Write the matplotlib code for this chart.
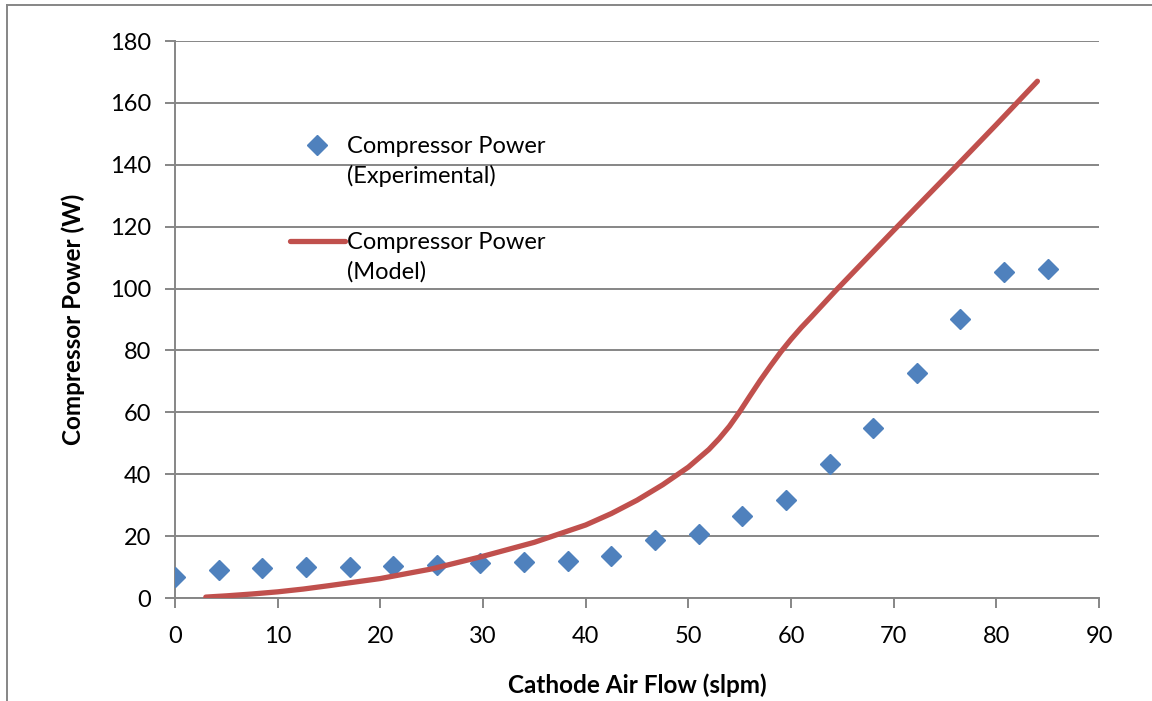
import matplotlib
matplotlib.use("Agg")
import numpy as np
import matplotlib.pyplot as plt
from matplotlib.lines import Line2D
from matplotlib.legend_handler import HandlerLine2D

# Experimental measurements
exp_flow = [0, 4.25, 8.5, 12.75, 17, 21.25, 25.5, 29.75, 34, 38.25, 42.5,
            46.75, 51, 55.25, 59.5, 63.75, 68, 72.25, 76.5, 80.75, 85]
exp_power = [6.8, 9.0, 9.7, 10.0, 10.0, 10.4, 10.7, 11.3, 11.6, 12.1, 13.7,
             18.7, 20.7, 26.5, 31.7, 43.3, 55.1, 72.7, 90.2, 105.3, 106.2]

# Model curve
model_flow = [3, 5, 7.5, 10, 12.5, 15, 20, 25, 30, 35, 37.5, 40, 42.5, 45, 47.5,
              50, 52, 53, 54, 55, 56, 57, 58, 59, 60, 61, 62, 64.4, 67.3, 70,
              76.4, 80, 84]
model_power = [0.3, 0.7, 1.3, 2.0, 2.9, 4.0, 6.3, 9.4, 13.5, 18.0, 20.8, 23.6,
               27.3, 31.6, 36.6, 42.3, 48.0, 51.5, 55.5, 60.2, 65.3, 70.3, 75.0,
               79.5, 83.6, 87.4, 90.9, 99.5, 109.5, 118.8, 140.6, 153.0, 167.0]

plt.rcParams["font.family"] = ["Lato", "DejaVu Sans"]


class FirstLineHandler(HandlerLine2D):
    """Legend handle aligned with the first line of a two-line label."""
    def create_artists(self, legend, orig_handle, xdescent, ydescent, width,
                       height, fontsize, trans):
        arts = super().create_artists(legend, orig_handle, xdescent, ydescent,
                                      width, height, fontsize, trans)
        for a in arts:
            a.set_ydata(np.asarray(a.get_ydata()) + 12)
        return arts


fig = plt.figure(figsize=(11.52, 7.01), dpi=100)
ax = fig.add_axes([0.1519, 0.1469, 0.8021, 0.7946])

grid_c = "#868686"
ax.plot(exp_flow, exp_power, linestyle="none", marker="D", markersize=10,
        color="#4F81BD", label="Compressor Power\n(Experimental)", zorder=3)
ax.plot(model_flow, model_power, color="#C0504D", linewidth=3.8,
        solid_capstyle="round", solid_joinstyle="round",
        label="Compressor Power\n(Model)", zorder=4)

ax.set_xlim(0, 90)
ax.set_ylim(0, 180)
ax.set_xticks(range(0, 91, 10))
ax.set_yticks(range(0, 181, 20))
ax.grid(axis="y", color=grid_c, linewidth=1.4)
ax.set_axisbelow(True)
for side in ["top", "right"]:
    ax.spines[side].set_visible(False)
for side in ["left", "bottom"]:
    ax.spines[side].set_color(grid_c)
    ax.spines[side].set_linewidth(1.4)
ax.tick_params(axis="both", direction="out", length=7, width=1.4, color=grid_c,
               labelsize=17)
ax.tick_params(axis="y", pad=10)
ax.tick_params(axis="x", pad=13)

ax.set_xlabel("Cathode Air Flow (slpm)", fontsize=17.5, fontweight="bold", labelpad=19)
ax.set_ylabel("Compressor Power (W)", fontsize=17.5, fontweight="bold", labelpad=18)

leg = ax.legend(loc="upper left", bbox_to_anchor=(0.101, 0.868), frameon=False,
                fontsize=17, handlelength=2.35, handletextpad=0.1,
                labelspacing=1.9, handler_map={Line2D: FirstLineHandler()})
for t in leg.get_texts():
    t.set_linespacing(1.45)

# outer chart border (clipped at right and bottom)
fig.add_artist(Line2D([7 / 1152, 7 / 1152], [0, 1 - 5 / 701], color=grid_c,
                      linewidth=1.4, transform=fig.transFigure))
fig.add_artist(Line2D([7 / 1152, 1], [1 - 5 / 701, 1 - 5 / 701], color=grid_c,
                      linewidth=1.4, transform=fig.transFigure))

fig.savefig("out.png", dpi=100)
